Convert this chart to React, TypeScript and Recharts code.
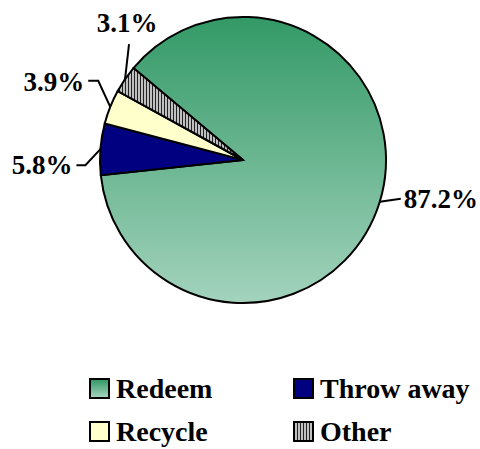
import { PieChart, Pie, Cell, Legend } from "recharts";

const categories = ["Redeem", "Throw away", "Recycle", "Other"];
const shares = [87.2, 5.8, 3.9, 3.1];

const fills = ["url(#redeemGrad)", "#000080", "#ffffcc", "url(#otherStripes)"];
const legendFills = [
  "linear-gradient(#339966, #a3d3bd)",
  "#000080",
  "#ffffcc",
  "repeating-linear-gradient(90deg, #c0c0c0 0px, #c0c0c0 2px, #222 2px, #222 3px)",
];

// leader line bends / ends relative to the slice edge, and where the text sits
const leaders = [
  { bend: [0, 0], end: [21, -3], text: [3, 9], anchor: "start" },
  { bend: [-15, 16], end: [-24, 16], text: [-4, 9], anchor: "end" },
  { bend: [-12, -26], end: [-22, -26], text: [-4, 10], anchor: "end" },
  { bend: [4, -35], end: [4, -35], text: [-2, -12], anchor: "middle" },
];

const data = categories.map((name, i) => ({ name, value: shares[i] }));
const RAD = Math.PI / 180;
const FONT = "Liberation Serif, DejaVu Serif, Times New Roman, serif";

function renderLabel(props: any) {
  const { cx, cy, midAngle, outerRadius, index, value } = props;
  const ex = cx + outerRadius * Math.cos(-midAngle * RAD);
  const ey = cy + outerRadius * Math.sin(-midAngle * RAD);
  const l = leaders[index];
  const bx = ex + l.bend[0], by = ey + l.bend[1];
  const tx = ex + l.end[0], ty = ey + l.end[1];
  return (
    <g key={`lbl-${index}`}>
      <polyline
        points={`${ex},${ey} ${bx},${by} ${tx},${ty}`}
        fill="none"
        stroke="#000"
        strokeWidth={2}
      />
      <text
        x={tx + l.text[0]}
        y={ty + l.text[1]}
        textAnchor={l.anchor}
        style={{ fontFamily: FONT, fontWeight: "bold", fontSize: 27 }}
        fill="#000"
      >
        {`${value.toFixed(1)}%`}
      </text>
    </g>
  );
}

function renderLegend() {
  return (
    <div style={{ position: "relative", width: 480, height: 80 }}>
      {categories.map((name, i) => {
        const col = i % 2, row = Math.floor(i / 2);
        const left = col === 0 ? 89 : 293;
        const top = row * 43;
        return (
          <div key={name} style={{ position: "absolute", left, top, height: 30, whiteSpace: "nowrap" }}>
            <div
              style={{
                position: "absolute",
                left: 0,
                top: 2,
                width: 17,
                height: 17,
                border: "2px solid #000",
                background: legendFills[i],
              }}
            />
            <span
              style={{
                position: "absolute",
                left: 27,
                top: -1,
                fontFamily: FONT,
                fontWeight: "bold",
                fontSize: 28,
                lineHeight: "28px",
                color: "#000",
              }}
            >
              {name}
            </span>
          </div>
        );
      })}
    </div>
  );
}

export default function App() {
  return (
    <div style={{ position: "absolute", left: 0, top: 0, width: 480, height: 449, background: "#fff" }}>
      <PieChart width={480} height={449} margin={{ top: 0, right: 0, bottom: 0, left: 0 }}>
        <defs>
          <linearGradient id="redeemGrad" x1="0" y1="0" x2="0" y2="1">
            <stop offset="0%" stopColor="#339966" />
            <stop offset="100%" stopColor="#a3d3bd" />
          </linearGradient>
          <pattern id="otherStripes" width={3} height={3} patternUnits="userSpaceOnUse">
            <rect width={3} height={3} fill="#c0c0c0" />
            <line x1={2.5} y1={0} x2={2.5} y2={3} stroke="#222" strokeWidth={1} />
          </pattern>
        </defs>
        <Pie
          data={data}
          dataKey="value"
          nameKey="name"
          cx={243}
          cy={160}
          outerRadius={143}
          startAngle={140}
          endAngle={-220}
          stroke="#000"
          strokeWidth={2}
          label={renderLabel}
          labelLine={false}
          isAnimationActive={false}
        >
          {data.map((d, i) => (
            <Cell key={d.name} fill={fills[i]} />
          ))}
        </Pie>
        <Legend
          content={renderLegend}
          wrapperStyle={{ position: "absolute", left: 0, top: 376, width: 480, height: 80 }}
        />
      </PieChart>
    </div>
  );
}
